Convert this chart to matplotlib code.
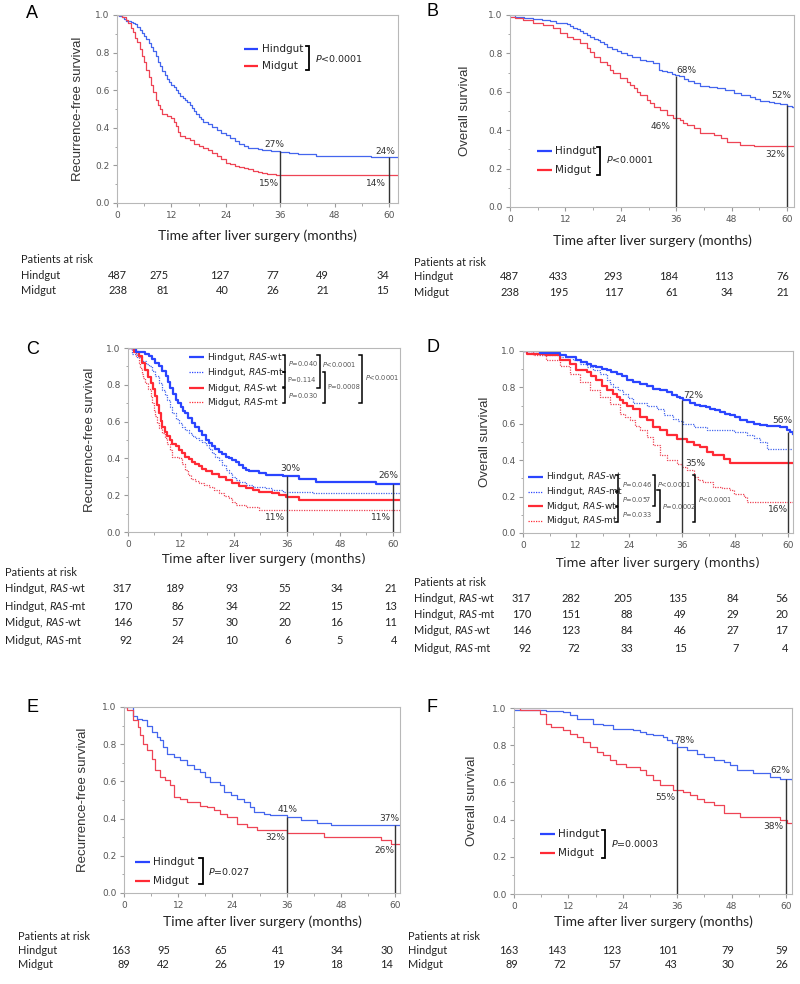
import matplotlib
matplotlib.use('Agg')
import matplotlib.pyplot as plt
from matplotlib.ticker import MultipleLocator, FormatStrFormatter
from matplotlib.offsetbox import TextArea, HPacker, AnnotationBbox

plt.rcParams['mathtext.fontset'] = 'dejavusans'

W, H = 800, 984
BLUE = '#2a45ff'
RED = '#ff2a35'
BLUE_T = '#4466ee'
RED_T = '#ee4455'
TAB_FONT = 'Lato'
TAB_SIZE = 7.9

# ---- data (months, survival) ----
A_hind_t = [0, 0.5, 1, 1.5, 2, 3, 3.5, 4, 4.5, 5, 5.5, 6, 6.5, 7, 7.5, 8, 8.5, 9, 9.5, 10, 10.5, 11, 11.5, 12, 12.5,
            13, 13.5, 14, 14.5, 15, 15.5, 16, 16.5, 17, 17.5, 18, 18.5, 19, 20, 21, 22, 23, 24, 25, 26, 27, 28, 29,
            30, 31, 32, 33, 34, 35, 36, 38, 40, 42, 44, 46, 56, 62]
A_hind_s = [1.0, 0.995, 0.99, 0.98, 0.97, 0.965, 0.96, 0.95, 0.935, 0.92, 0.905, 0.89, 0.87, 0.85, 0.83, 0.81, 0.78,
            0.75, 0.73, 0.70, 0.68, 0.66, 0.645, 0.63, 0.615, 0.60, 0.585, 0.57, 0.56, 0.55, 0.535, 0.52, 0.505, 0.49,
            0.475, 0.46, 0.445, 0.43, 0.42, 0.405, 0.39, 0.375, 0.36, 0.345, 0.33, 0.315, 0.305, 0.295, 0.29, 0.285,
            0.283, 0.28, 0.278, 0.275, 0.272, 0.265, 0.262, 0.258, 0.252, 0.25, 0.245, 0.245]
A_mid_t = [0, 1, 2, 2.5, 3, 3.5, 4, 4.5, 5, 5.5, 6, 6.5, 7, 7.5, 8, 8.5, 9, 9.5, 10, 11, 12, 12.5, 13, 13.5, 14, 15,
           16, 17, 18, 19, 20, 21, 22, 23, 24, 25, 26, 27, 28, 29, 30, 31, 32, 33, 34, 35, 36, 38.8, 62]
A_mid_s = [1.0, 0.99, 0.975, 0.96, 0.93, 0.91, 0.88, 0.855, 0.82, 0.78, 0.75, 0.71, 0.67, 0.63, 0.59, 0.55, 0.52, 0.50,
           0.475, 0.465, 0.45, 0.43, 0.41, 0.38, 0.355, 0.345, 0.335, 0.315, 0.305, 0.295, 0.28, 0.265, 0.25, 0.235,
           0.215, 0.205, 0.195, 0.19, 0.185, 0.18, 0.172, 0.165, 0.16, 0.155, 0.152, 0.15, 0.15, 0.147, 0.147]

B_hind_t = [0, 1, 3, 5, 7, 8.7, 10, 10.8, 12.3, 13, 13.7, 14.5, 15.2, 15.9, 16.7, 17.4, 18.2, 19, 19.5, 20.3, 21, 22,
            23.1, 24, 25.3, 26.5, 28.2, 29.5, 31, 32.2, 33, 34, 35, 35.8, 36.5, 37.6, 38.5, 39.8, 41.2, 43, 44.8, 46.5,
            48.4, 50, 52, 53, 54.2, 56, 57.1, 58.5, 60, 61, 61.5]
B_hind_s = [1.0, 0.99, 0.985, 0.98, 0.975, 0.97, 0.96, 0.957, 0.953, 0.945, 0.93, 0.925, 0.915, 0.905, 0.895, 0.887,
            0.875, 0.87, 0.86, 0.85, 0.835, 0.825, 0.81, 0.80, 0.79, 0.78, 0.766, 0.76, 0.75, 0.714, 0.71, 0.705,
            0.695, 0.69, 0.68, 0.665, 0.658, 0.648, 0.63, 0.625, 0.62, 0.607, 0.593, 0.585, 0.575, 0.565, 0.55, 0.548,
            0.544, 0.535, 0.527, 0.52, 0.515]
B_mid_t = [0, 1, 2.9, 5, 7.2, 9.4, 10.8, 12.3, 13.7, 15.2, 16.6, 17.3, 18.1, 19.5, 21, 21.7, 22.4, 23.9, 25.3, 26,
           26.8, 27.5, 28.2, 29.6, 30.3, 31.1, 32.5, 34, 35.4, 36.9, 37.5, 38.3, 39.8, 41.2, 44.1, 45.6, 47, 49.9,
           52.8, 61.5]
B_mid_s = [0.99, 0.985, 0.974, 0.96, 0.948, 0.93, 0.905, 0.887, 0.873, 0.853, 0.827, 0.805, 0.783, 0.757, 0.74, 0.715,
           0.697, 0.67, 0.653, 0.635, 0.619, 0.60, 0.584, 0.558, 0.54, 0.523, 0.506, 0.48, 0.463, 0.454, 0.44, 0.428,
           0.41, 0.385, 0.376, 0.359, 0.341, 0.324, 0.318, 0.318]

C_hwt_t = [0, 1.7, 3.9, 4.7, 5.5, 6.2, 7, 7.7, 8.5, 9, 9.6, 10.2, 10.8, 11.4, 11.9, 12.5, 13, 13.7, 14.5, 15.2, 16,
           16.8, 17.6, 18.3, 19.1, 19.8, 20.6, 21.3, 22.1, 22.9, 23.6, 24.4, 25.2, 26, 26.7, 27.5, 28.2, 29.7, 31.2,
           35, 38.8, 42.6, 56.2, 61.6]
C_hwt_s = [1.0, 0.976, 0.97, 0.955, 0.94, 0.92, 0.90, 0.875, 0.85, 0.815, 0.78, 0.75, 0.72, 0.70, 0.68, 0.66, 0.645,
           0.62, 0.59, 0.57, 0.55, 0.525, 0.50, 0.482, 0.465, 0.45, 0.437, 0.423, 0.41, 0.40, 0.39, 0.378, 0.365,
           0.35, 0.337, 0.333, 0.33, 0.32, 0.31, 0.305, 0.29, 0.27, 0.26, 0.26]
C_hmt_t = [0, 1, 2, 3.2, 4, 4.7, 5.5, 6.2, 7, 7.7, 8.3, 8.9, 9.5, 10, 10.8, 11.5, 12.2, 13, 13.8, 14.5, 15.2, 16,
           16.8, 17.6, 18.3, 19.1, 19.8, 20.6, 21.3, 22.1, 22.9, 23.6, 24.4, 25.2, 26.7, 28.2, 31.2, 32.7, 35, 41.8,
           61.6]
C_hmt_s = [1.0, 0.97, 0.95, 0.93, 0.915, 0.90, 0.875, 0.85, 0.81, 0.77, 0.745, 0.72, 0.68, 0.645, 0.615, 0.59, 0.57,
           0.555, 0.54, 0.52, 0.51, 0.50, 0.49, 0.475, 0.45, 0.43, 0.41, 0.39, 0.365, 0.337, 0.32, 0.30, 0.285, 0.27,
           0.255, 0.245, 0.238, 0.23, 0.22, 0.212, 0.212]
C_mwt_t = [0, 1.3, 2.4, 3.2, 3.9, 4.5, 5.1, 5.6, 6.2, 6.6, 7, 7.4, 7.7, 8.3, 8.9, 9.5, 10, 10.8, 11.5, 12.2, 13,
           13.8, 14.5, 15.2, 16, 16.8, 17.6, 19.1, 20.6, 22.1, 23.6, 25.2, 26.7, 28.2, 29.7, 31.2, 32.7, 34.3, 35.8,
           38.8, 61.6]
C_mwt_s = [1.0, 0.98, 0.955, 0.92, 0.88, 0.845, 0.81, 0.775, 0.74, 0.69, 0.645, 0.605, 0.57, 0.545, 0.52, 0.50,
           0.48, 0.465, 0.445, 0.43, 0.41, 0.395, 0.383, 0.37, 0.356, 0.343, 0.33, 0.315, 0.30, 0.283, 0.265, 0.25,
           0.238, 0.228, 0.22, 0.215, 0.21, 0.2, 0.19, 0.175, 0.175]
C_mmt_t = [0, 1.7, 2.4, 2.8, 3.2, 3.5, 3.9, 4.5, 5.1, 5.5, 5.8, 6.2, 6.6, 7.1, 7.7, 8.3, 8.9, 9.5, 10, 11.5, 12.2,
           13, 13.6, 14.2, 15.1, 16, 17.1, 18.3, 19.4, 20.6, 21.7, 22.9, 23.6, 24.4, 26.7, 29.7, 61.6]
C_mmt_s = [1.0, 0.955, 0.92, 0.89, 0.86, 0.835, 0.81, 0.775, 0.74, 0.70, 0.665, 0.63, 0.59, 0.565, 0.537, 0.51, 0.48,
           0.445, 0.41, 0.40, 0.37, 0.337, 0.31, 0.29, 0.275, 0.265, 0.255, 0.245, 0.228, 0.21, 0.195, 0.183, 0.165,
           0.147, 0.138, 0.12, 0.115]

D_hwt_t = [0, 3.8, 8.3, 9.8, 12.1, 13.2, 14.4, 15.5, 16.6, 17.8, 18.9, 20, 21.2, 22.3, 23.5, 25, 26.5, 28, 29.5, 31,
           32.5, 33.7, 34.8, 35.5, 36.2, 37.8, 39, 40.1, 41.3, 42.4, 43.5, 44.6, 45.8, 46.9, 48, 49.2, 50.7, 52.2,
           53.7, 55.2, 58.2, 59.8, 60.5, 61.1]
D_hwt_s = [1.0, 0.99, 0.98, 0.967, 0.95, 0.94, 0.93, 0.92, 0.912, 0.903, 0.894, 0.885, 0.875, 0.86, 0.84, 0.83,
           0.82, 0.807, 0.793, 0.785, 0.775, 0.76, 0.747, 0.74, 0.73, 0.713, 0.705, 0.70, 0.69, 0.683, 0.675, 0.665,
           0.655, 0.647, 0.635, 0.623, 0.612, 0.60, 0.593, 0.588, 0.582, 0.564, 0.555, 0.546]
D_hmt_t = [0, 3.8, 8.3, 11.3, 12.9, 14.4, 15.9, 17.4, 18.9, 19.7, 20.4, 21.5, 22.7, 23.8, 25, 28, 30.3, 31.8, 34,
           35.1, 36.3, 38.6, 41.6, 47.7, 50.7, 52.2, 53.7, 55.2, 61.1]
D_hmt_s = [1.0, 0.98, 0.967, 0.95, 0.93, 0.912, 0.893, 0.875, 0.84, 0.82, 0.80, 0.783, 0.765, 0.74, 0.714, 0.70,
           0.683, 0.647, 0.628, 0.615, 0.60, 0.582, 0.564, 0.555, 0.537, 0.52, 0.50, 0.463, 0.463]
D_mwt_t = [0, 1, 5.3, 8.3, 10.6, 12.1, 14.4, 15.5, 16.6, 17.8, 18.9, 20.4, 21.2, 21.9, 22.7, 23.5, 25, 26.5, 28,
           29.5, 31, 32.5, 34.8, 37.1, 38.6, 40.1, 41.6, 43.1, 45.4, 46.9, 61.1]
D_mwt_s = [1.0, 0.985, 0.976, 0.95, 0.93, 0.894, 0.885, 0.86, 0.84, 0.81, 0.788, 0.765, 0.75, 0.73, 0.715, 0.70,
           0.683, 0.637, 0.62, 0.582, 0.564, 0.537, 0.518, 0.50, 0.482, 0.473, 0.445, 0.427, 0.408, 0.385, 0.385]
D_mmt_t = [0, 2.3, 5.3, 8.3, 10.6, 12.9, 15.1, 17.4, 19.7, 21.9, 23, 24.2, 25.3, 26.5, 28, 29.5, 31, 32.5, 34.8, 36,
           37.1, 38.6, 39.7, 40.8, 43.1, 45, 46.9, 47.7, 49.9, 50.7, 61.1]
D_mmt_s = [1.0, 0.976, 0.95, 0.92, 0.875, 0.83, 0.784, 0.747, 0.71, 0.655, 0.635, 0.62, 0.59, 0.564, 0.527, 0.482,
           0.427, 0.40, 0.38, 0.36, 0.344, 0.308, 0.29, 0.28, 0.253, 0.245, 0.234, 0.216, 0.198, 0.17, 0.17]

E_hind_t = [0, 2.1, 2.8, 3.9, 5, 6.1, 7.3, 8, 8.7, 9.5, 11, 12.4, 13.9, 15.4, 16.9, 18, 19.1, 21.3, 22.1, 23.6, 25,
            26.5, 28, 28.7, 31, 32.4, 36.1, 39.1, 42.8, 45.8, 61.1]
E_hind_s = [1.0, 0.95, 0.937, 0.928, 0.90, 0.866, 0.84, 0.82, 0.785, 0.75, 0.73, 0.713, 0.686, 0.668, 0.65, 0.624,
            0.597, 0.58, 0.543, 0.525, 0.507, 0.49, 0.462, 0.435, 0.427, 0.418, 0.41, 0.39, 0.376, 0.365, 0.365]
E_mid_t = [0, 0.6, 2.1, 3, 3.6, 4.3, 5, 6.1, 6.9, 8, 9.1, 10.2, 11, 12.4, 13.9, 16.9, 18.4, 19.9, 21.3, 22.8, 25,
           27.3, 29.5, 36.1, 44.3, 56.9, 59.1, 61.1]
E_mid_s = [1.0, 0.982, 0.928, 0.892, 0.848, 0.803, 0.767, 0.722, 0.66, 0.624, 0.606, 0.58, 0.516, 0.507, 0.49, 0.47,
           0.462, 0.444, 0.427, 0.41, 0.373, 0.355, 0.337, 0.32, 0.30, 0.283, 0.265, 0.265]

F_hind_t = [0, 2.7, 7.1, 10.8, 12.3, 13.8, 17.5, 19.7, 21.9, 26.3, 27.8, 29.2, 30.7, 32.9, 33.7, 34.8, 35.9, 38.1,
            40.3, 41.8, 44, 46.2, 47.6, 49.1, 52.8, 56.5, 58.7, 61.3]
F_hind_s = [0.99, 0.987, 0.984, 0.979, 0.96, 0.943, 0.916, 0.907, 0.889, 0.88, 0.871, 0.862, 0.853, 0.844, 0.83,
            0.81, 0.79, 0.773, 0.755, 0.737, 0.72, 0.71, 0.692, 0.665, 0.648, 0.63, 0.62, 0.615]
F_mid_t = [0, 1.3, 5.7, 7.1, 8.2, 10.8, 12.3, 13.8, 15.2, 16.7, 18.2, 19.7, 21.1, 22.6, 24.8, 27.8, 29.2, 30.7,
           32.2, 35.1, 37.3, 38.8, 40.3, 41.8, 44, 46.2, 49.9, 58.7, 60.2, 61.3]
F_mid_s = [1.0, 0.987, 0.97, 0.916, 0.898, 0.88, 0.862, 0.844, 0.818, 0.79, 0.764, 0.746, 0.72, 0.70, 0.683, 0.665,
           0.639, 0.612, 0.585, 0.558, 0.55, 0.531, 0.513, 0.496, 0.478, 0.433, 0.415, 0.397, 0.383, 0.38]

LANDMARKS = [36, 60]
A_drop = [0.275, 0.245]
B_drop = [0.683, 0.532]
C_drop = [0.307, 0.26]
D_drop = [0.73, 0.555]
E_drop = [0.41, 0.368]
F_drop = [0.79, 0.62]

# patients at risk
A_risk_hind = [487, 275, 127, 77, 49, 34]
A_risk_mid = [238, 81, 40, 26, 21, 15]
B_risk_hind = [487, 433, 293, 184, 113, 76]
B_risk_mid = [238, 195, 117, 61, 34, 21]
C_risk = [[317, 189, 93, 55, 34, 21], [170, 86, 34, 22, 15, 13], [146, 57, 30, 20, 16, 11], [92, 24, 10, 6, 5, 4]]
D_risk = [[317, 282, 205, 135, 84, 56], [170, 151, 88, 49, 29, 20], [146, 123, 84, 46, 27, 17], [92, 72, 33, 15, 7, 4]]
E_risk_hind = [163, 95, 65, 41, 34, 30]
E_risk_mid = [89, 42, 26, 19, 18, 14]
F_risk_hind = [163, 143, 123, 101, 79, 59]
F_risk_mid = [89, 72, 57, 43, 30, 26]

GROUPS2 = [('Hindgut',), ('Midgut',)]
GROUPS4 = [('Hindgut,', 'RAS', '-wt'), ('Hindgut,', 'RAS', '-mt'), ('Midgut,', 'RAS', '-wt'), ('Midgut,', 'RAS', '-mt')]
LEG4 = ['Hindgut, $RAS$-wt', 'Hindgut, $RAS$-mt', 'Midgut, $RAS$-wt', 'Midgut, $RAS$-mt']

fig = plt.figure(figsize=(8, 9.84), dpi=100)


def fx(x):
    return x / W


def fy(y):
    return 1 - y / H


def make_axes(l, t, r, b, xmax, ylabel, ylab_x, xlabel, xlab_y, xfont, xsize):
    ax = fig.add_axes([l / W, 1 - b / H, (r - l) / W, (b - t) / H])
    ax.set_xlim(0, xmax)
    ax.set_ylim(0, 1)
    ax.xaxis.set_major_locator(MultipleLocator(12))
    ax.xaxis.set_minor_locator(MultipleLocator(6))
    ax.yaxis.set_major_locator(MultipleLocator(0.2))
    ax.yaxis.set_minor_locator(MultipleLocator(0.1))
    ax.yaxis.set_major_formatter(FormatStrFormatter('%.1f'))
    for s in ax.spines.values():
        s.set_color('#b8b8b8')
        s.set_linewidth(0.8)
    ax.tick_params(which='both', direction='out', color='#9a9a9a', labelcolor='#555555', labelsize=6.5)
    ax.tick_params(which='major', length=3, pad=2.5)
    ax.tick_params(which='minor', length=1.8)
    ax.set_ylabel(ylabel, family='Liberation Sans', size=9.5, color='#333333', va='center')
    ax.yaxis.set_label_coords(fx(ylab_x), fy((t + b) / 2), transform=fig.transFigure)
    ax.set_xlabel(xlabel, family=xfont, size=xsize, color='#222222', va='center')
    ax.xaxis.set_label_coords(fx((l + r) / 2), fy(xlab_y), transform=fig.transFigure)
    return ax


def landmarks(ax, tops, pcts):
    ax.vlines(LANDMARKS, 0, tops, color='#333333', lw=1.0, zorder=4)
    for x, y, s in pcts:
        ax.text(x, y, s, ha='center', va='center', size=6.5, color='#333333', zorder=5)


def legend(ax, x0, x1, xt, ys, labels, colors, styles, widths, size):
    for y, lab, c, ls, lw in zip(ys, labels, colors, styles, widths):
        ax.plot([x0, x1], [y, y], color=c, ls=ls, lw=lw, solid_capstyle='butt')
        ax.text(xt, y, lab, ha='left', va='center', size=size, color='#222222')


def bracket(ax, x, y0, y1, w=0.7, lw=1.3):
    ax.plot([x - w, x, x, x - w], [y0, y0, y1, y1], color='black', lw=lw, solid_joinstyle='miter')


def pval(ax, x, y, s, size, color='#222222'):
    ax.text(x, y, s, ha='left', va='center', size=size, color=color)


def letter(x, y, s):
    fig.text(fx(x), fy(y), s, ha='center', va='center', family='Liberation Sans', size=13)


def rich_label(x, y, parts):
    props = dict(family=TAB_FONT, size=TAB_SIZE, color='#222222')
    if len(parts) == 1:
        fig.text(fx(x), fy(y), parts[0], ha='left', va='center', **props)
        return
    first = TextArea(parts[0], textprops=props)
    ital = TextArea(parts[1], textprops=dict(props, style='italic'))
    rest = TextArea(parts[2], textprops=props)
    box = HPacker(children=[first, HPacker(children=[ital, rest], align='baseline', pad=0, sep=0)],
                  align='baseline', pad=0, sep=2.0)
    ab = AnnotationBbox(box, (fx(x), fy(y)), xycoords='figure fraction', box_alignment=(0, 0.5),
                        frameon=False, pad=0)
    fig.add_artist(ab)


def risk_table(x_lab, y_title, rows_y, groups, counts, col_right):
    fig.text(fx(x_lab), fy(y_title), 'Patients at risk', ha='left', va='center', family=TAB_FONT, size=TAB_SIZE,
             color='#222222')
    for y, g, vals in zip(rows_y, groups, counts):
        rich_label(x_lab, y, g)
        for v, xr in zip(vals, col_right):
            fig.text(fx(xr), fy(y), str(v), ha='right', va='center', family=TAB_FONT, size=TAB_SIZE,
                     color='#222222')


XLAB = 'Time after liver surgery (months)'

# ---------------- A ----------------
axA = make_axes(117, 15, 398, 203, 62.0, 'Recurrence-free survival', 78, XLAB, 236, TAB_FONT, 10)
axA.step(A_hind_t, A_hind_s, where='post', color=BLUE_T, lw=0.9)
axA.step(A_mid_t, A_mid_s, where='post', color=RED_T, lw=0.9)
landmarks(axA, A_drop, [(34.7, 0.31, '27%'), (59.2, 0.274, '24%'), (33.5, 0.106, '15%'), (57.2, 0.106, '14%')])
legend(axA, 28, 31.2, 32.0, [0.82, 0.73], ['Hindgut', 'Midgut'], [BLUE, RED], ['-', '-'], [1.6, 1.6], 7.5)
bracket(axA, 42.4, 0.835, 0.705)
pval(axA, 43.6, 0.77, '$P$<0.0001', 6.8)
letter(32, 14, 'A')
risk_table(21, 260, [275, 290], GROUPS2, [A_risk_hind, A_risk_mid], [127, 169, 229, 279, 329, 389])

# ---------------- B ----------------
axB = make_axes(510, 15, 794, 207, 61.5, 'Overall survival', 465, XLAB, 241, TAB_FONT, 10)
axB.step(B_hind_t, B_hind_s, where='post', color=BLUE_T, lw=0.9)
axB.step(B_mid_t, B_mid_s, where='post', color=RED_T, lw=0.9)
landmarks(axB, B_drop, [(38.2, 0.709, '68%'), (58.8, 0.579, '52%'), (32.7, 0.419, '46%'), (57.5, 0.272, '32%')])
legend(axB, 5.8, 9.1, 9.8, [0.29, 0.195], ['Hindgut', 'Midgut'], [BLUE, RED], ['-', '-'], [1.6, 1.6], 7.5)
bracket(axB, 19.5, 0.31, 0.168)
pval(axB, 20.8, 0.245, '$P$<0.0001', 6.8)
letter(432, 12, 'B')
risk_table(414, 262, [277, 292], GROUPS2, [B_risk_hind, B_risk_mid], [519, 568, 623, 678, 733, 789])

# ---------------- C ----------------
axC = make_axes(128, 348, 400, 532, 61.6, 'Recurrence-free survival', 90, XLAB, 560, 'DejaVu Sans', 8.8)
axC.step(C_hmt_t, C_hmt_s, where='post', color=BLUE_T, lw=0.9, ls=(0, (1, 1)))
axC.step(C_mmt_t, C_mmt_s, where='post', color=RED_T, lw=0.9, ls=(0, (1, 1)))
axC.step(C_mwt_t, C_mwt_s, where='post', color=RED, lw=1.6)
axC.step(C_hwt_t, C_hwt_s, where='post', color=BLUE, lw=1.6)
landmarks(axC, C_drop, [(36.8, 0.347, '30%'), (59.0, 0.307, '26%'), (33.2, 0.08, '11%'), (57.4, 0.08, '11%')])
legend(axC, 13.8, 17.2, 17.8, [0.951, 0.868, 0.782, 0.704], LEG4, [BLUE, BLUE, RED, RED],
       ['-', (0, (1, 1)), '-', (0, (1, 1))], [1.6, 0.9, 1.6, 0.9], 6.5)
bracket(axC, 35.5, 0.962, 0.872, w=0.5, lw=1.1)
bracket(axC, 35.5, 0.868, 0.787, w=0.5, lw=1.1)
bracket(axC, 35.5, 0.783, 0.70, w=0.5, lw=1.1)
bracket(axC, 43.4, 0.962, 0.785, w=0.5, lw=1.1)
bracket(axC, 44.6, 0.87, 0.70, w=0.5, lw=1.1)
bracket(axC, 52.9, 0.962, 0.70, w=0.5, lw=1.1)
pval(axC, 36.2, 0.915, '$P$=0.040', 4.8, '#555555')
pval(axC, 36.2, 0.826, 'P=0.114', 4.8, '#555555')
pval(axC, 36.2, 0.742, '$P$=0.030', 4.8, '#555555')
pval(axC, 44.0, 0.913, '$P$<0.0001', 4.8, '#555555')
pval(axC, 45.2, 0.788, 'P=0.0008', 4.8, '#555555')
pval(axC, 53.7, 0.837, '$P$<0.0001', 4.8, '#555555')
letter(33, 349, 'C')
risk_table(5, 573, [589, 606, 623, 640], GROUPS4, C_risk, [132, 184, 238, 291, 343, 397])

# ---------------- D ----------------
axD = make_axes(523, 351, 793, 533, 61.1, 'Overall survival', 485, XLAB, 563, 'DejaVu Sans', 8.8)
axD.step(D_hmt_t, D_hmt_s, where='post', color=BLUE_T, lw=0.9, ls=(0, (1, 1)))
axD.step(D_mmt_t, D_mmt_s, where='post', color=RED_T, lw=0.9, ls=(0, (1, 1)))
axD.step(D_mwt_t, D_mwt_s, where='post', color=RED, lw=1.6)
axD.step(D_hwt_t, D_hwt_s, where='post', color=BLUE, lw=1.6)
landmarks(axD, D_drop, [(38.6, 0.756, '72%'), (58.6, 0.619, '56%'), (39.0, 0.381, '35%'), (57.8, 0.128, '16%')])
legend(axD, 1.1, 4.5, 5.1, [0.308, 0.228, 0.146, 0.066], LEG4, [BLUE, BLUE, RED, RED],
       ['-', (0, (1, 1)), '-', (0, (1, 1))], [1.6, 0.9, 1.6, 0.9], 6.5)
bracket(axD, 21.6, 0.318, 0.232, w=0.5, lw=1.1)
bracket(axD, 21.6, 0.226, 0.150, w=0.5, lw=1.1)
bracket(axD, 21.6, 0.143, 0.058, w=0.5, lw=1.1)
bracket(axD, 29.9, 0.318, 0.148, w=0.5, lw=1.1)
bracket(axD, 30.9, 0.236, 0.058, w=0.5, lw=1.1)
bracket(axD, 39.0, 0.318, 0.058, w=0.5, lw=1.1)
pval(axD, 22.3, 0.267, '$P$=0.046', 4.8, '#555555')
pval(axD, 22.3, 0.183, '$P$=0.057', 4.8, '#555555')
pval(axD, 22.3, 0.10, '$P$=0.033', 4.8, '#555555')
pval(axD, 30.4, 0.267, '$P$<0.0001', 4.8, '#555555')
pval(axD, 31.5, 0.143, '$P$=0.0002', 4.8, '#555555')
pval(axD, 39.6, 0.183, '$P$<0.0001', 4.8, '#555555')
letter(433, 348, 'D')
risk_table(414, 582, [598, 614, 631, 648], GROUPS4, D_risk, [531, 580, 633, 687, 739, 788])

# ---------------- E ----------------
axE = make_axes(124, 707, 400, 893, 61.1, 'Recurrence-free survival', 83, XLAB, 922, TAB_FONT, 10)
axE.step(E_hind_t, E_hind_s, where='post', color=BLUE_T, lw=0.9)
axE.step(E_mid_t, E_mid_s, where='post', color=RED_T, lw=0.9)
landmarks(axE, E_drop, [(36.2, 0.448, '41%'), (58.8, 0.40, '37%'), (33.6, 0.297, '32%'), (57.6, 0.229, '26%')])
legend(axE, 2.4, 5.8, 6.5, [0.167, 0.067], ['Hindgut', 'Midgut'], [BLUE, RED], ['-', '-'], [1.6, 1.6], 7.5)
bracket(axE, 17.4, 0.19, 0.048)
pval(axE, 18.6, 0.116, '$P$=0.027', 6.8)
letter(32, 707, 'E')
risk_table(18, 937, [951, 965], GROUPS2, [E_risk_hind, E_risk_mid], [130, 170, 227, 285, 343, 393])

# ---------------- F ----------------
axF = make_axes(514, 708, 792, 894, 61.3, 'Overall survival', 472, XLAB, 922, TAB_FONT, 10)
axF.step(F_hind_t, F_hind_s, where='post', color=BLUE_T, lw=0.9)
axF.step(F_mid_t, F_mid_s, where='post', color=RED_T, lw=0.9)
landmarks(axF, F_drop, [(37.6, 0.826, '78%'), (58.7, 0.665, '62%'), (33.4, 0.517, '55%'), (57.1, 0.365, '38%')])
legend(axF, 5.7, 9.0, 9.7, [0.32, 0.218], ['Hindgut', 'Midgut'], [BLUE, RED], ['-', '-'], [1.6, 1.6], 7.5)
bracket(axF, 20.0, 0.345, 0.192)
pval(axF, 21.3, 0.272, '$P$=0.0003', 6.8)
letter(432, 708, 'F')
risk_table(408, 937, [951, 965], GROUPS2, [F_risk_hind, F_risk_mid], [518, 566, 621, 678, 734, 788])

fig.savefig('out.png', dpi=100)
